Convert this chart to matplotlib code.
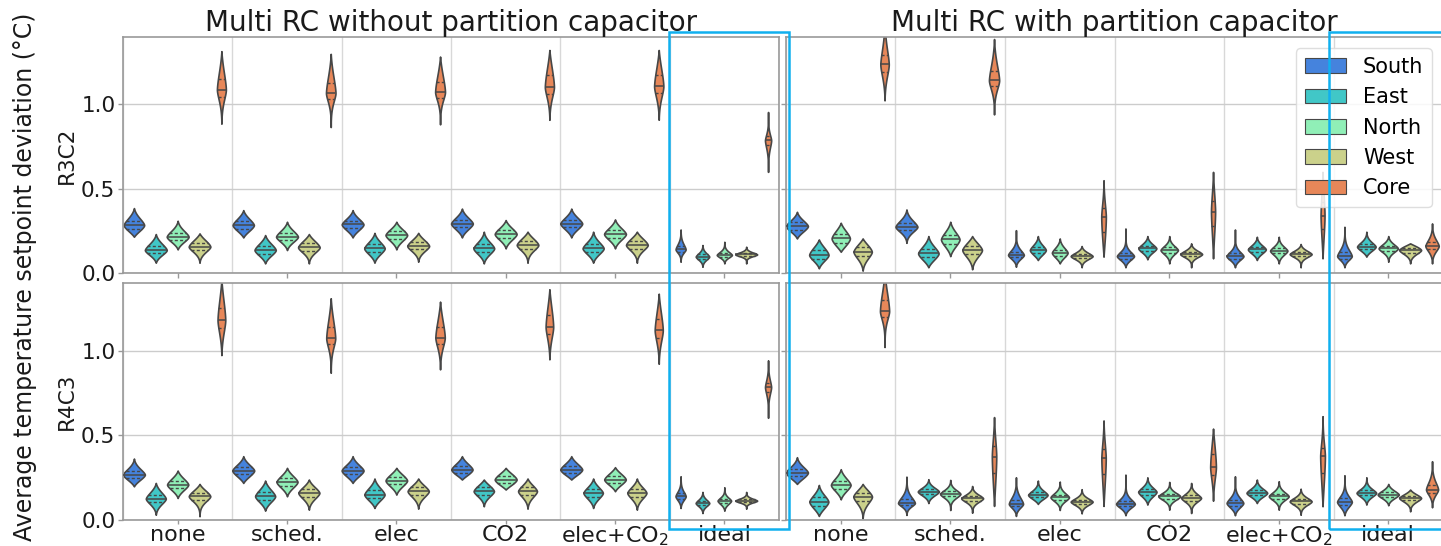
import numpy as np
import matplotlib
matplotlib.use("Agg")
import matplotlib.pyplot as plt
from matplotlib.patches import Rectangle, Patch
import seaborn as sns

# ---------------- data ----------------
CATEGORIES = ["none", "sched.", "elec", "CO2", "elec+CO$_2$", "ideal"]
ZONES = ["South", "East", "North", "West", "Core"]
COL_TITLES = ["Multi RC without partition capacitor", "Multi RC with partition capacitor"]
ROW_LABELS = ["R3C2", "R4C3"]
YLABEL = "Average temperature setpoint deviation (°C)"
YTICKS = [0.0, 0.5, 1.0]

# rows = categories, columns = zones (South, East, North, West, Core)
# --- R3C2, without partition capacitor
TL_LO = [[0.215, 0.061, 0.140, 0.061, 0.886], [0.211, 0.057, 0.136, 0.057, 0.866],
         [0.211, 0.061, 0.140, 0.067, 0.882], [0.211, 0.057, 0.146, 0.061, 0.909],
         [0.211, 0.061, 0.146, 0.061, 0.909], [0.067, 0.037, 0.057, 0.057, 0.600]]
TL_Q1 = [[0.262, 0.117, 0.195, 0.136, 1.047], [0.262, 0.115, 0.195, 0.132, 1.033],
         [0.266, 0.124, 0.203, 0.140, 1.040], [0.271, 0.124, 0.209, 0.145, 1.063],
         [0.271, 0.124, 0.209, 0.145, 1.065], [0.127, 0.085, 0.097, 0.103, 0.757]]
TL_MED = [[0.284, 0.136, 0.215, 0.156, 1.087], [0.284, 0.136, 0.215, 0.152, 1.067],
          [0.288, 0.146, 0.225, 0.160, 1.073], [0.293, 0.146, 0.231, 0.166, 1.103],
          [0.293, 0.146, 0.231, 0.166, 1.107], [0.140, 0.097, 0.107, 0.110, 0.787]]
TL_Q3 = [[0.310, 0.160, 0.238, 0.180, 1.152], [0.308, 0.160, 0.238, 0.176, 1.130],
         [0.310, 0.170, 0.247, 0.183, 1.135], [0.316, 0.170, 0.254, 0.190, 1.172],
         [0.316, 0.170, 0.254, 0.190, 1.172], [0.160, 0.110, 0.119, 0.118, 0.810]]
TL_HI = [[0.385, 0.231, 0.310, 0.235, 1.316], [0.373, 0.225, 0.304, 0.231, 1.300],
         [0.373, 0.238, 0.304, 0.238, 1.284], [0.382, 0.245, 0.314, 0.245, 1.323],
         [0.382, 0.245, 0.318, 0.245, 1.323], [0.258, 0.166, 0.185, 0.156, 0.955]]

# --- R3C2, with partition capacitor
TR_LO = [[0.205, 0.028, 0.126, 0.014, 1.024], [0.179, 0.034, 0.100, 0.022, 0.941],
         [0.037, 0.077, 0.057, 0.034, 0.097], [0.034, 0.081, 0.057, 0.034, 0.087],
         [0.034, 0.077, 0.057, 0.034, 0.087], [0.034, 0.097, 0.067, 0.057, 0.057]]
TR_Q1 = [[0.257, 0.085, 0.178, 0.100, 1.191], [0.254, 0.092, 0.172, 0.110, 1.107],
         [0.092, 0.118, 0.102, 0.088, 0.245], [0.085, 0.130, 0.120, 0.100, 0.280],
         [0.085, 0.124, 0.116, 0.100, 0.260], [0.085, 0.140, 0.131, 0.121, 0.140]]
TR_MED = [[0.278, 0.107, 0.205, 0.126, 1.237], [0.274, 0.116, 0.199, 0.136, 1.142],
          [0.107, 0.136, 0.120, 0.100, 0.333], [0.100, 0.146, 0.136, 0.112, 0.363],
          [0.100, 0.140, 0.132, 0.112, 0.340], [0.100, 0.156, 0.146, 0.136, 0.160]]
TR_Q3 = [[0.300, 0.135, 0.233, 0.152, 1.296], [0.298, 0.142, 0.227, 0.162, 1.201],
         [0.126, 0.155, 0.139, 0.113, 0.383], [0.117, 0.162, 0.152, 0.125, 0.430],
         [0.117, 0.156, 0.148, 0.125, 0.420], [0.125, 0.173, 0.162, 0.151, 0.184]]
TR_HI = [[0.363, 0.199, 0.298, 0.205, 1.500], [0.377, 0.219, 0.304, 0.219, 1.388],
         [0.254, 0.219, 0.205, 0.160, 0.550], [0.264, 0.219, 0.219, 0.176, 0.600],
         [0.258, 0.215, 0.215, 0.172, 0.600], [0.274, 0.245, 0.219, 0.176, 0.294]]

# --- R4C3, without partition capacitor
BL_LO = [[0.199, 0.031, 0.130, 0.022, 0.974], [0.219, 0.055, 0.140, 0.061, 0.870],
         [0.219, 0.071, 0.150, 0.067, 0.890], [0.239, 0.081, 0.180, 0.067, 0.949],
         [0.239, 0.071, 0.170, 0.061, 0.923], [0.071, 0.041, 0.055, 0.067, 0.604]]
BL_Q1 = [[0.248, 0.105, 0.188, 0.120, 1.132], [0.270, 0.118, 0.203, 0.138, 1.037],
         [0.270, 0.128, 0.211, 0.148, 1.040], [0.278, 0.150, 0.219, 0.148, 1.097],
         [0.278, 0.138, 0.219, 0.138, 1.077], [0.125, 0.088, 0.101, 0.107, 0.758]]
BL_MED = [[0.268, 0.126, 0.209, 0.140, 1.180], [0.292, 0.140, 0.225, 0.160, 1.073],
          [0.292, 0.150, 0.233, 0.170, 1.077], [0.298, 0.170, 0.239, 0.170, 1.140],
          [0.298, 0.160, 0.239, 0.160, 1.120], [0.140, 0.100, 0.114, 0.114, 0.785]]
BL_Q3 = [[0.290, 0.150, 0.232, 0.162, 1.254], [0.314, 0.165, 0.248, 0.182, 1.140],
         [0.314, 0.175, 0.256, 0.192, 1.140], [0.320, 0.192, 0.261, 0.192, 1.211],
         [0.320, 0.182, 0.261, 0.182, 1.185], [0.158, 0.113, 0.126, 0.122, 0.812]]
BL_HI = [[0.363, 0.219, 0.292, 0.213, 1.420], [0.377, 0.233, 0.308, 0.239, 1.310],
         [0.377, 0.245, 0.308, 0.245, 1.290], [0.377, 0.239, 0.308, 0.245, 1.363],
         [0.377, 0.245, 0.312, 0.245, 1.337], [0.258, 0.166, 0.193, 0.166, 0.943]]

# --- R4C3, with partition capacitor
BR_LO = [[0.213, 0.024, 0.122, 0.010, 1.022], [0.030, 0.100, 0.059, 0.043, 0.083],
         [0.024, 0.095, 0.059, 0.039, 0.083], [0.028, 0.091, 0.061, 0.041, 0.114],
         [0.028, 0.100, 0.061, 0.031, 0.081], [0.028, 0.091, 0.087, 0.051, 0.075]]
BR_Q1 = [[0.258, 0.083, 0.184, 0.112, 1.200], [0.087, 0.153, 0.139, 0.114, 0.276],
         [0.080, 0.133, 0.119, 0.095, 0.270], [0.080, 0.148, 0.126, 0.115, 0.266],
         [0.083, 0.145, 0.125, 0.096, 0.278], [0.088, 0.145, 0.136, 0.116, 0.160]]
BR_MED = [[0.280, 0.108, 0.207, 0.138, 1.233], [0.100, 0.168, 0.154, 0.128, 0.375],
          [0.095, 0.148, 0.134, 0.108, 0.365], [0.095, 0.166, 0.140, 0.130, 0.312],
          [0.100, 0.160, 0.140, 0.110, 0.377], [0.107, 0.160, 0.150, 0.130, 0.180]]
BR_Q3 = [[0.302, 0.133, 0.232, 0.162, 1.302], [0.123, 0.183, 0.169, 0.142, 0.438],
         [0.120, 0.164, 0.150, 0.121, 0.420], [0.113, 0.183, 0.154, 0.146, 0.390],
         [0.120, 0.176, 0.156, 0.124, 0.426], [0.128, 0.175, 0.165, 0.144, 0.208]]
BR_HI = [[0.371, 0.207, 0.300, 0.213, 1.460], [0.256, 0.241, 0.237, 0.201, 0.608],
         [0.252, 0.233, 0.227, 0.182, 0.588], [0.268, 0.252, 0.225, 0.219, 0.540],
         [0.258, 0.239, 0.229, 0.185, 0.613], [0.264, 0.252, 0.213, 0.180, 0.347]]

# ---------------- style ----------------
plt.rcParams["font.family"] = ["DejaVu Sans"]
COLORS = sns.color_palette("rainbow", len(ZONES), desat=0.75)
EDGE = "#474747"
BLUE = "#10b0ef"
W, H = 1441, 546

fig = plt.figure(figsize=(W / 100, H / 100), dpi=100)


def px_axes(x0, y0, x1, y1):
    return fig.add_axes([x0 / W, 1 - y1 / H, (x1 - x0) / W, (y1 - y0) / H])


def shape(lo, q1, m, q3, hi, n=300):
    y = np.linspace(lo, hi, n)
    sl = (m - q1) / 0.6745
    su = (q3 - m) / 0.6745
    z = np.where(y < m, (m - y) / sl, (y - m) / su)
    f = np.exp(-0.5 * np.abs(z) ** 1.6)
    u = np.where(y < m, (m - y) / (m - lo), (y - m) / (hi - m))
    f = f * (1 - np.clip(u, 0, 1) ** 4)
    f = f / np.trapezoid(f, y)
    return y, f


def draw_panel(ax, LO, Q1, MED, Q3, HI):
    nz = len(ZONES)
    width = 1.0
    slot = width / nz
    for i in range(len(CATEGORIES)):
        profs = [shape(LO[i][j], Q1[i][j], MED[i][j], Q3[i][j], HI[i][j]) for j in range(nz)]
        peak = max(f.max() for _, f in profs)
        for j, (y, f) in enumerate(profs):
            pos = i - width / 2 + slot * (j + 0.5)
            hw = (slot / 2) * f / peak
            ax.fill_betweenx(y, pos - hw, pos + hw, facecolor=COLORS[j],
                             edgecolor=EDGE, linewidth=1.2, zorder=2)
            for q, ls, lw in ((Q1[i][j], (0, (2.2, 1.6)), 1.0),
                              (MED[i][j], "-", 1.1),
                              (Q3[i][j], (0, (2.2, 1.6)), 1.0)):
                h = np.interp(q, y, hw)
                ax.plot([pos - h, pos + h], [q, q], color=EDGE, ls=ls, lw=lw,
                        zorder=3, solid_capstyle="butt")
    ax.set_xlim(-0.5, len(CATEGORIES) - 0.5)
    ax.set_ylim(0, 1.4)
    ax.set_yticks(YTICKS)
    ax.set_xticks(range(len(CATEGORIES)))
    ax.set_xticklabels(CATEGORIES)
    ax.set_xticks(np.arange(-0.5, len(CATEGORIES), 1.0), minor=True)
    ax.set_axisbelow(True)
    ax.grid(which="minor", axis="x", color="#d8d8d8", lw=1.0)
    ax.grid(which="major", axis="y", color="#cccccc", lw=1.0)
    ax.tick_params(which="minor", length=0)
    ax.tick_params(which="major", labelsize=15.5, length=3.5, width=1.0,
                   color="0.6", pad=2, labelcolor="0.1")
    for s in ax.spines.values():
        s.set_color("0.6")
        s.set_linewidth(1.2)


ax_tl = px_axes(123, 37, 779, 273)
ax_tr = px_axes(786, 37, 1443, 273)
ax_bl = px_axes(123, 283, 779, 520)
ax_br = px_axes(786, 283, 1443, 520)

draw_panel(ax_tl, TL_LO, TL_Q1, TL_MED, TL_Q3, TL_HI)
draw_panel(ax_tr, TR_LO, TR_Q1, TR_MED, TR_Q3, TR_HI)
draw_panel(ax_bl, BL_LO, BL_Q1, BL_MED, BL_Q3, BL_HI)
draw_panel(ax_br, BR_LO, BR_Q1, BR_MED, BR_Q3, BR_HI)

for ax in (ax_tl, ax_tr):
    ax.tick_params(labelbottom=False)
for ax in (ax_tr, ax_br):
    ax.tick_params(labelleft=False)
ax_bl.tick_params(axis="x", labelsize=16, pad=0.5, length=3)
ax_br.tick_params(axis="x", labelsize=16, pad=0.5, length=3)

ax_tl.set_title(COL_TITLES[0], fontsize=20, pad=2, color="0.1")
ax_tr.set_title(COL_TITLES[1], fontsize=20, pad=2, color="0.1")
ax_tl.set_ylabel(ROW_LABELS[0], fontsize=15.5, labelpad=3, color="0.1")
ax_bl.set_ylabel(ROW_LABELS[1], fontsize=15.5, labelpad=3, color="0.1")

handles = [Patch(facecolor=c, edgecolor=EDGE, linewidth=0.8, label=z)
           for z, c in zip(ZONES, COLORS)]
leg = ax_tr.legend(handles=handles, loc="upper right", fontsize=15,
                   framealpha=0.85, edgecolor="0.85", borderaxespad=0.55)
leg.set_zorder(10)

fig.text(25 / W, 1 - 277 / H, YLABEL, rotation=90, ha="center", va="center",
         fontsize=17, color="0.1")

# highlight boxes around the "ideal" columns
for x0, x1 in ((669, 788.5), (1329, 1460)):
    fig.add_artist(Rectangle((x0 / W, 1 - 529 / H), (x1 - x0) / W, (529 - 32) / H,
                             fill=False, edgecolor=BLUE, linewidth=1.8,
                             transform=fig.transFigure, zorder=20))

fig.savefig("out.png", dpi=100)
